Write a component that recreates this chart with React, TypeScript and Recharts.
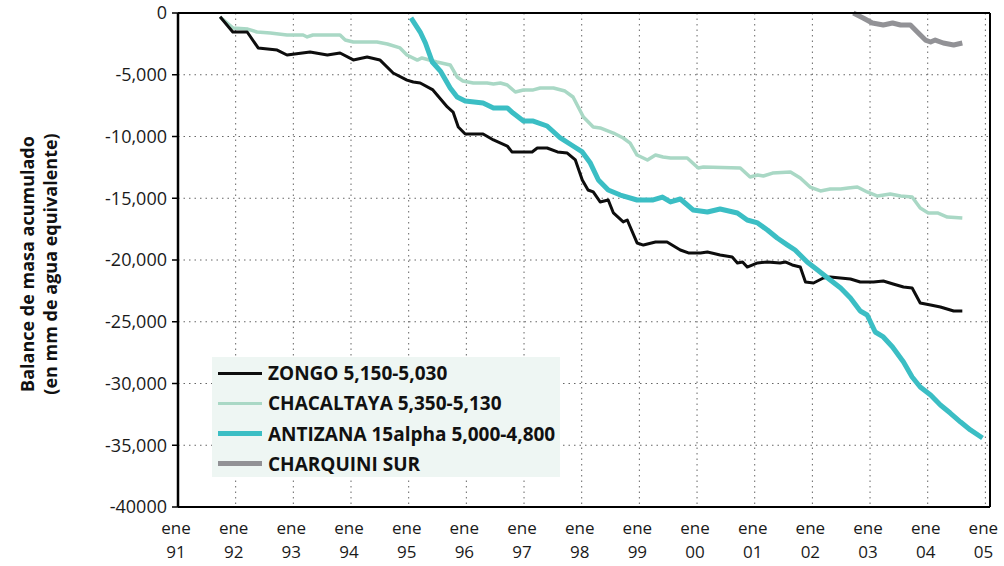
import { CartesianGrid, Line, LineChart, ReferenceLine, XAxis, YAxis } from "recharts";

const YEARS = [1991, 1992, 1993, 1994, 1995, 1996, 1997, 1998, 1999, 2000, 2001, 2002, 2003, 2004, 2005];
const YEAR_LABELS = ["91", "92", "93", "94", "95", "96", "97", "98", "99", "00", "01", "02", "03", "04", "05"];
const Y_TICKS = [0, -5000, -10000, -15000, -20000, -25000, -30000, -35000, -40000];
const X_MIN = 1991;
const X_MAX = 2005.08;

const ZONGO_YEARS = [1991.73, 1991.95, 1992.2, 1992.39, 1992.72, 1992.89, 1993.29, 1993.59, 1993.81, 1994.04, 1994.28, 1994.5, 1994.73, 1994.97, 1995.08, 1995.2, 1995.42, 1995.67, 1995.77, 1995.86, 1995.98, 1996.29, 1996.47, 1996.71, 1996.79, 1997.14, 1997.23, 1997.4, 1997.58, 1997.75, 1997.89, 1998.01, 1998.11, 1998.2, 1998.32, 1998.46, 1998.55, 1998.72, 1998.79, 1998.96, 1999.07, 1999.28, 1999.48, 1999.71, 1999.85, 2000.06, 2000.18, 2000.4, 2000.61, 2000.7, 2000.79, 2000.87, 2001.05, 2001.22, 2001.44, 2001.53, 2001.65, 2001.79, 2001.88, 2002.02, 2002.19, 2002.31, 2002.66, 2002.83, 2003.06, 2003.23, 2003.4, 2003.58, 2003.73, 2003.87, 2004.05, 2004.22, 2004.45, 2004.6];
const ZONGO_VALUES = [-300, -1540, -1540, -2830, -3000, -3400, -3160, -3400, -3240, -3800, -3560, -3800, -4860, -5430, -5590, -5670, -6230, -7610, -8020, -9230, -9800, -9800, -10280, -10770, -11250, -11250, -10930, -10930, -11250, -11340, -11900, -13520, -14330, -14490, -15300, -15140, -16190, -16920, -16760, -18620, -18790, -18540, -18540, -19190, -19430, -19430, -19350, -19590, -19760, -20240, -20160, -20570, -20240, -20160, -20240, -20160, -20400, -20570, -21780, -21860, -21460, -21380, -21540, -21780, -21780, -21700, -21940, -22190, -22270, -23480, -23640, -23810, -24130, -24130];

const CHACALTAYA_YEARS = [1991.73, 1991.95, 1992.21, 1992.37, 1992.6, 1992.89, 1993.17, 1993.24, 1993.34, 1993.81, 1993.9, 1994.04, 1994.45, 1994.63, 1994.85, 1994.97, 1995.15, 1995.23, 1995.49, 1995.72, 1995.84, 1995.94, 1996.12, 1996.36, 1996.47, 1996.59, 1996.71, 1996.85, 1996.99, 1997.16, 1997.28, 1997.51, 1997.71, 1997.85, 1998.03, 1998.2, 1998.32, 1998.55, 1998.72, 1998.84, 1998.96, 1999.14, 1999.28, 1999.41, 1999.54, 1999.83, 2000.02, 2000.11, 2000.75, 2000.92, 2001.05, 2001.15, 2001.31, 2001.62, 2001.79, 2001.96, 2002.14, 2002.31, 2002.49, 2002.62, 2002.78, 2002.95, 2003.13, 2003.35, 2003.53, 2003.73, 2003.87, 2004.01, 2004.17, 2004.34, 2004.6];
const CHACALTAYA_VALUES = [-320, -1210, -1300, -1540, -1620, -1780, -1780, -1940, -1780, -1780, -2190, -2350, -2350, -2510, -2830, -3400, -3810, -3640, -3970, -4210, -5180, -5510, -5670, -5670, -5750, -5670, -5830, -6400, -6230, -6230, -6070, -6070, -6320, -6800, -8420, -9230, -9310, -9720, -10120, -10530, -11500, -11900, -11500, -11660, -11740, -11740, -12550, -12470, -12550, -13280, -13120, -13200, -12960, -12870, -13360, -14090, -14410, -14250, -14250, -14170, -14090, -14490, -14820, -14660, -14820, -14900, -15790, -16190, -16190, -16520, -16600];

const ANTIZANA_YEARS = [1995.04, 1995.2, 1995.29, 1995.41, 1995.55, 1995.72, 1995.84, 1995.98, 1996.29, 1996.47, 1996.71, 1996.81, 1996.99, 1997.16, 1997.4, 1997.63, 1997.85, 1998.01, 1998.15, 1998.29, 1998.46, 1998.67, 1998.96, 1999.24, 1999.4, 1999.54, 1999.71, 1999.93, 2000.18, 2000.4, 2000.7, 2000.87, 2001.05, 2001.22, 2001.39, 2001.57, 2001.7, 2001.91, 2002.09, 2002.31, 2002.49, 2002.66, 2002.83, 2002.95, 2003.09, 2003.23, 2003.39, 2003.58, 2003.73, 2003.87, 2004.05, 2004.22, 2004.39, 2004.57, 2004.74, 2004.95];
const ANTIZANA_VALUES = [-400, -1540, -2430, -3970, -4700, -6070, -6800, -7130, -7290, -7690, -7690, -8100, -8750, -8750, -9150, -10120, -10770, -11250, -12150, -13520, -14330, -14740, -15140, -15140, -14900, -15300, -15060, -15950, -16110, -15870, -16190, -16760, -17000, -17570, -18220, -18790, -19190, -20160, -20810, -21620, -22270, -23080, -24130, -24450, -25830, -26230, -27040, -28260, -29470, -30280, -30930, -31740, -32390, -33120, -33760, -34410];

const CHARQUINI_YEARS = [2002.71, 2002.88, 2003.04, 2003.23, 2003.39, 2003.53, 2003.7, 2003.82, 2003.96, 2004.05, 2004.13, 2004.27, 2004.45, 2004.6];
const CHARQUINI_VALUES = [0, -400, -810, -970, -810, -970, -970, -1540, -2190, -2350, -2190, -2430, -2590, -2430];

const SERIES = [
  { name: "CHACALTAYA 5,350-5,130", years: CHACALTAYA_YEARS, values: CHACALTAYA_VALUES, color: "#a9d8c5", width: 3.5 },
  { name: "ZONGO 5,150-5,030", years: ZONGO_YEARS, values: ZONGO_VALUES, color: "#0d0d0d", width: 3 },
  { name: "CHARQUINI SUR", years: CHARQUINI_YEARS, values: CHARQUINI_VALUES, color: "#929296", width: 5 },
  { name: "ANTIZANA 15alpha 5,000-4,800", years: ANTIZANA_YEARS, values: ANTIZANA_VALUES, color: "#3bbec4", width: 5 }
];

const LEGEND_ORDER = [1, 0, 3, 2];

const FONT = "'Open Sans', 'DejaVu Sans', sans-serif";

function toPoints(years: number[], values: number[]) {
  return years.map((x, i) => ({ x, y: values[i] }));
}

function formatY(v: number) {
  if (v === 0) return "0";
  if (v === -40000) return "-40000";
  const abs = Math.abs(v);
  const s = String(abs).replace(/\B(?=(\d{3})+(?!\d))/g, ",");
  return "-" + s;
}

function YearTick({ x, y, payload }: { x?: number; y?: number; payload?: { value: number } }) {
  const idx = YEARS.indexOf(payload?.value ?? 0);
  const cx = (x ?? 0) - 2;
  return (
    <g>
      <text x={cx} y={(y ?? 0) + 25} textAnchor="middle" fontSize={17} fontFamily={FONT} fill="#1a1a1a">
        ene
      </text>
      <text x={cx} y={(y ?? 0) + 49} textAnchor="middle" fontSize={17} fontFamily={FONT} fill="#1a1a1a">
        {YEAR_LABELS[idx]}
      </text>
    </g>
  );
}

export default function App() {
  return (
    <div style={{ position: "absolute", left: 0, top: 0, width: 1004, height: 566, background: "#fff" }}>
      <LineChart width={1004} height={566} margin={{ top: 13, right: 14, bottom: 0, left: 0 }}>
        <CartesianGrid stroke="#666" strokeDasharray="1.5 4" />
        <XAxis
          type="number"
          dataKey="x"
          domain={[X_MIN, X_MAX]}
          ticks={YEARS}
          allowDataOverflow
          height={59}
          tickSize={0}
          tickLine={false}
          axisLine={{ stroke: "#000", strokeWidth: 2 }}
          tick={<YearTick />}
          interval={0}
        />
        <XAxis
          xAxisId="top"
          type="number"
          orientation="top"
          mirror
          domain={[X_MIN, X_MAX]}
          ticks={YEARS}
          allowDataOverflow
          tickSize={6}
          tickLine={{ stroke: "#000", strokeWidth: 2 }}
          axisLine={{ stroke: "#000", strokeWidth: 2 }}
          tick={() => <g />}
          interval={0}
        />
        <YAxis
          type="number"
          domain={[-40000, 0]}
          ticks={Y_TICKS}
          width={178}
          interval={0}
          tickSize={6}
          tickMargin={5}
          tickFormatter={formatY}
          tickLine={{ stroke: "#000", strokeWidth: 1.5 }}
          axisLine={{ stroke: "#000", strokeWidth: 2.5 }}
          tick={{ fill: "#1a1a1a", fontSize: 18, fontFamily: FONT }}
        />
        <ReferenceLine x={X_MAX} stroke="#000" strokeWidth={2} />
        {SERIES.map((s) => (
          <Line
            key={s.name}
            data={toPoints(s.years, s.values)}
            dataKey="y"
            name={s.name}
            type="linear"
            stroke={s.color}
            strokeWidth={s.width}
            strokeLinejoin="round"
            dot={false}
            activeDot={false}
            isAnimationActive={false}
          />
        ))}
      </LineChart>

      <svg width={80} height={566} style={{ position: "absolute", left: 0, top: 0, pointerEvents: "none" }}>
        <text
          transform="translate(27,264) rotate(-90)"
          textAnchor="middle"
          dominantBaseline="central"
          fontSize={18}
          fontWeight={700}
          fontFamily={FONT}
          fill="#111"
        >
          Balance de masa acumulado
        </text>
        <text
          transform="translate(50,264) rotate(-90)"
          textAnchor="middle"
          dominantBaseline="central"
          fontSize={18}
          fontWeight={700}
          fontFamily={FONT}
          fill="#111"
        >
          (en mm de agua equivalente)
        </text>
      </svg>

      <div
        style={{
          position: "absolute",
          left: 212,
          top: 357,
          width: 348,
          height: 120,
          background: "#eef6f3"
        }}
      >
        {LEGEND_ORDER.map((si, row) => {
          const s = SERIES[si];
          return (
            <div
              key={s.name}
              style={{
                position: "absolute",
                left: 6,
                top: 4 + row * 30.3,
                height: 24,
                display: "flex",
                alignItems: "center",
                whiteSpace: "nowrap"
              }}
            >
              <span style={{ display: "inline-block", width: 44, height: s.width, background: s.color }} />
              <span
                style={{
                  marginLeft: 6,
                  fontFamily: FONT,
                  fontWeight: 700,
                  fontSize: 19,
                  lineHeight: "24px",
                  color: "#111"
                }}
              >
                {s.name}
              </span>
            </div>
          );
        })}
      </div>
    </div>
  );
}
